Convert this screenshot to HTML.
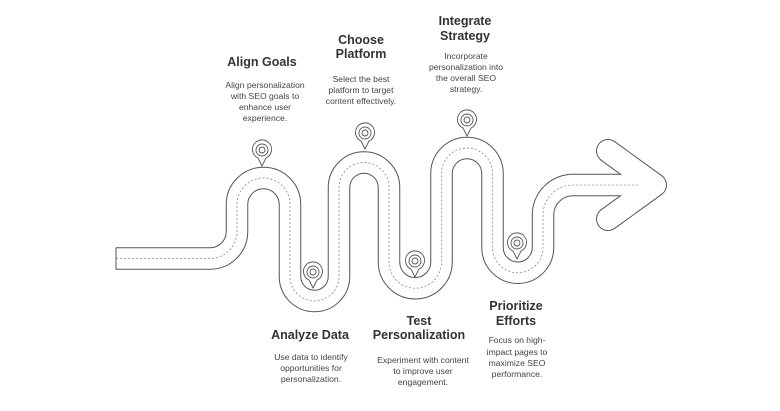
<!DOCTYPE html>
<html><head><meta charset="utf-8"><style>
html,body{margin:0;padding:0;background:#fff;}
svg{display:block;font-family:"Liberation Sans",sans-serif;}
.t{font-size:12.5px;font-weight:bold;fill:#333;text-anchor:middle;}
.d{font-size:8.6px;fill:#444;text-anchor:middle;}
</style></head><body>
<svg width="780" height="411" viewBox="0 0 780 411" xmlns="http://www.w3.org/2000/svg">
<defs>
<path id="road" d="M116,258.5 H210 A27,27 0 0 0 237,231.5 V204.5 A26.5,26.5 0 0 1 290,204.5 V276.5 A24.5,24.5 0 0 0 339,276.5 V187.5 A25,25 0 0 1 389,187.5 V262 A26.25,26.25 0 0 0 441.5,262 V173.5 A25.5,25.5 0 0 1 492.5,173.5 V247.5 A25.25,25.25 0 0 0 543,247.5 V215 A30,30 0 0 1 573,185 H640"/>
<polyline id="chev" points="608,151 655,185 608,219"/>
</defs>
<g fill="none">
<use href="#road" stroke="#555" stroke-width="22.5"/>
<use href="#chev" stroke="#555" stroke-width="24" stroke-linejoin="round" stroke-linecap="round"/>
<use href="#road" stroke="#fff" stroke-width="20.5"/>
<use href="#chev" stroke="#fff" stroke-width="22" stroke-linejoin="round" stroke-linecap="round"/>
<use href="#road" stroke="#888" stroke-width="0.8" stroke-dasharray="2,2"/>
</g>
<line x1="116" y1="247.5" x2="116" y2="269.5" stroke="#555" stroke-width="1"/>
<g fill="#fff" stroke="#555" stroke-width="0.9">
<g transform="translate(262,150)"><path d="M-4,8 A9.5,9.5 0 1 1 4,8 L0,16 Z"/><circle r="6"/><circle r="3"/></g>
<g transform="translate(365,133)"><path d="M-4,8 A9.5,9.5 0 1 1 4,8 L0,16 Z"/><circle r="6"/><circle r="3"/></g>
<g transform="translate(467,120)"><path d="M-4,8 A9.5,9.5 0 1 1 4,8 L0,16 Z"/><circle r="6"/><circle r="3"/></g>
<g transform="translate(313,272)"><path d="M-4,8 A9.5,9.5 0 1 1 4,8 L0,16 Z"/><circle r="6"/><circle r="3"/></g>
<g transform="translate(415,261)"><path d="M-4,8 A9.5,9.5 0 1 1 4,8 L0,16 Z"/><circle r="6"/><circle r="3"/></g>
<g transform="translate(517,243)"><path d="M-4,8 A9.5,9.5 0 1 1 4,8 L0,16 Z"/><circle r="6"/><circle r="3"/></g>
</g>
<text class="t" x="262" y="66">Align Goals</text>
<text class="d" x="265" y="88">Align personalization</text>
<text class="d" x="265" y="99">with SEO goals to</text>
<text class="d" x="265" y="110">enhance user</text>
<text class="d" x="265" y="121">experience.</text>
<text class="t" x="361" y="44">Choose</text>
<text class="t" x="361" y="58">Platform</text>
<text class="d" x="361" y="82">Select the best</text>
<text class="d" x="361" y="93">platform to target</text>
<text class="d" x="361" y="104">content effectively.</text>
<text class="t" x="465" y="25">Integrate</text>
<text class="t" x="465" y="40">Strategy</text>
<text class="d" x="466" y="59">Incorporate</text>
<text class="d" x="466" y="70">personalization into</text>
<text class="d" x="466" y="81">the overall SEO</text>
<text class="d" x="466" y="92">strategy.</text>
<text class="t" x="310" y="339">Analyze Data</text>
<text class="d" x="311" y="360">Use data to identify</text>
<text class="d" x="311" y="371">opportunities for</text>
<text class="d" x="311" y="382">personalization.</text>
<text class="t" x="419" y="325">Test</text>
<text class="t" x="419" y="339">Personalization</text>
<text class="d" x="423" y="363">Experiment with content</text>
<text class="d" x="423" y="374">to improve user</text>
<text class="d" x="423" y="385">engagement.</text>
<text class="t" x="516" y="310">Prioritize</text>
<text class="t" x="516" y="325">Efforts</text>
<text class="d" x="517" y="343">Focus on high-</text>
<text class="d" x="517" y="355">impact pages to</text>
<text class="d" x="517" y="366">maximize SEO</text>
<text class="d" x="517" y="377">performance.</text>
</svg>
</body></html>
